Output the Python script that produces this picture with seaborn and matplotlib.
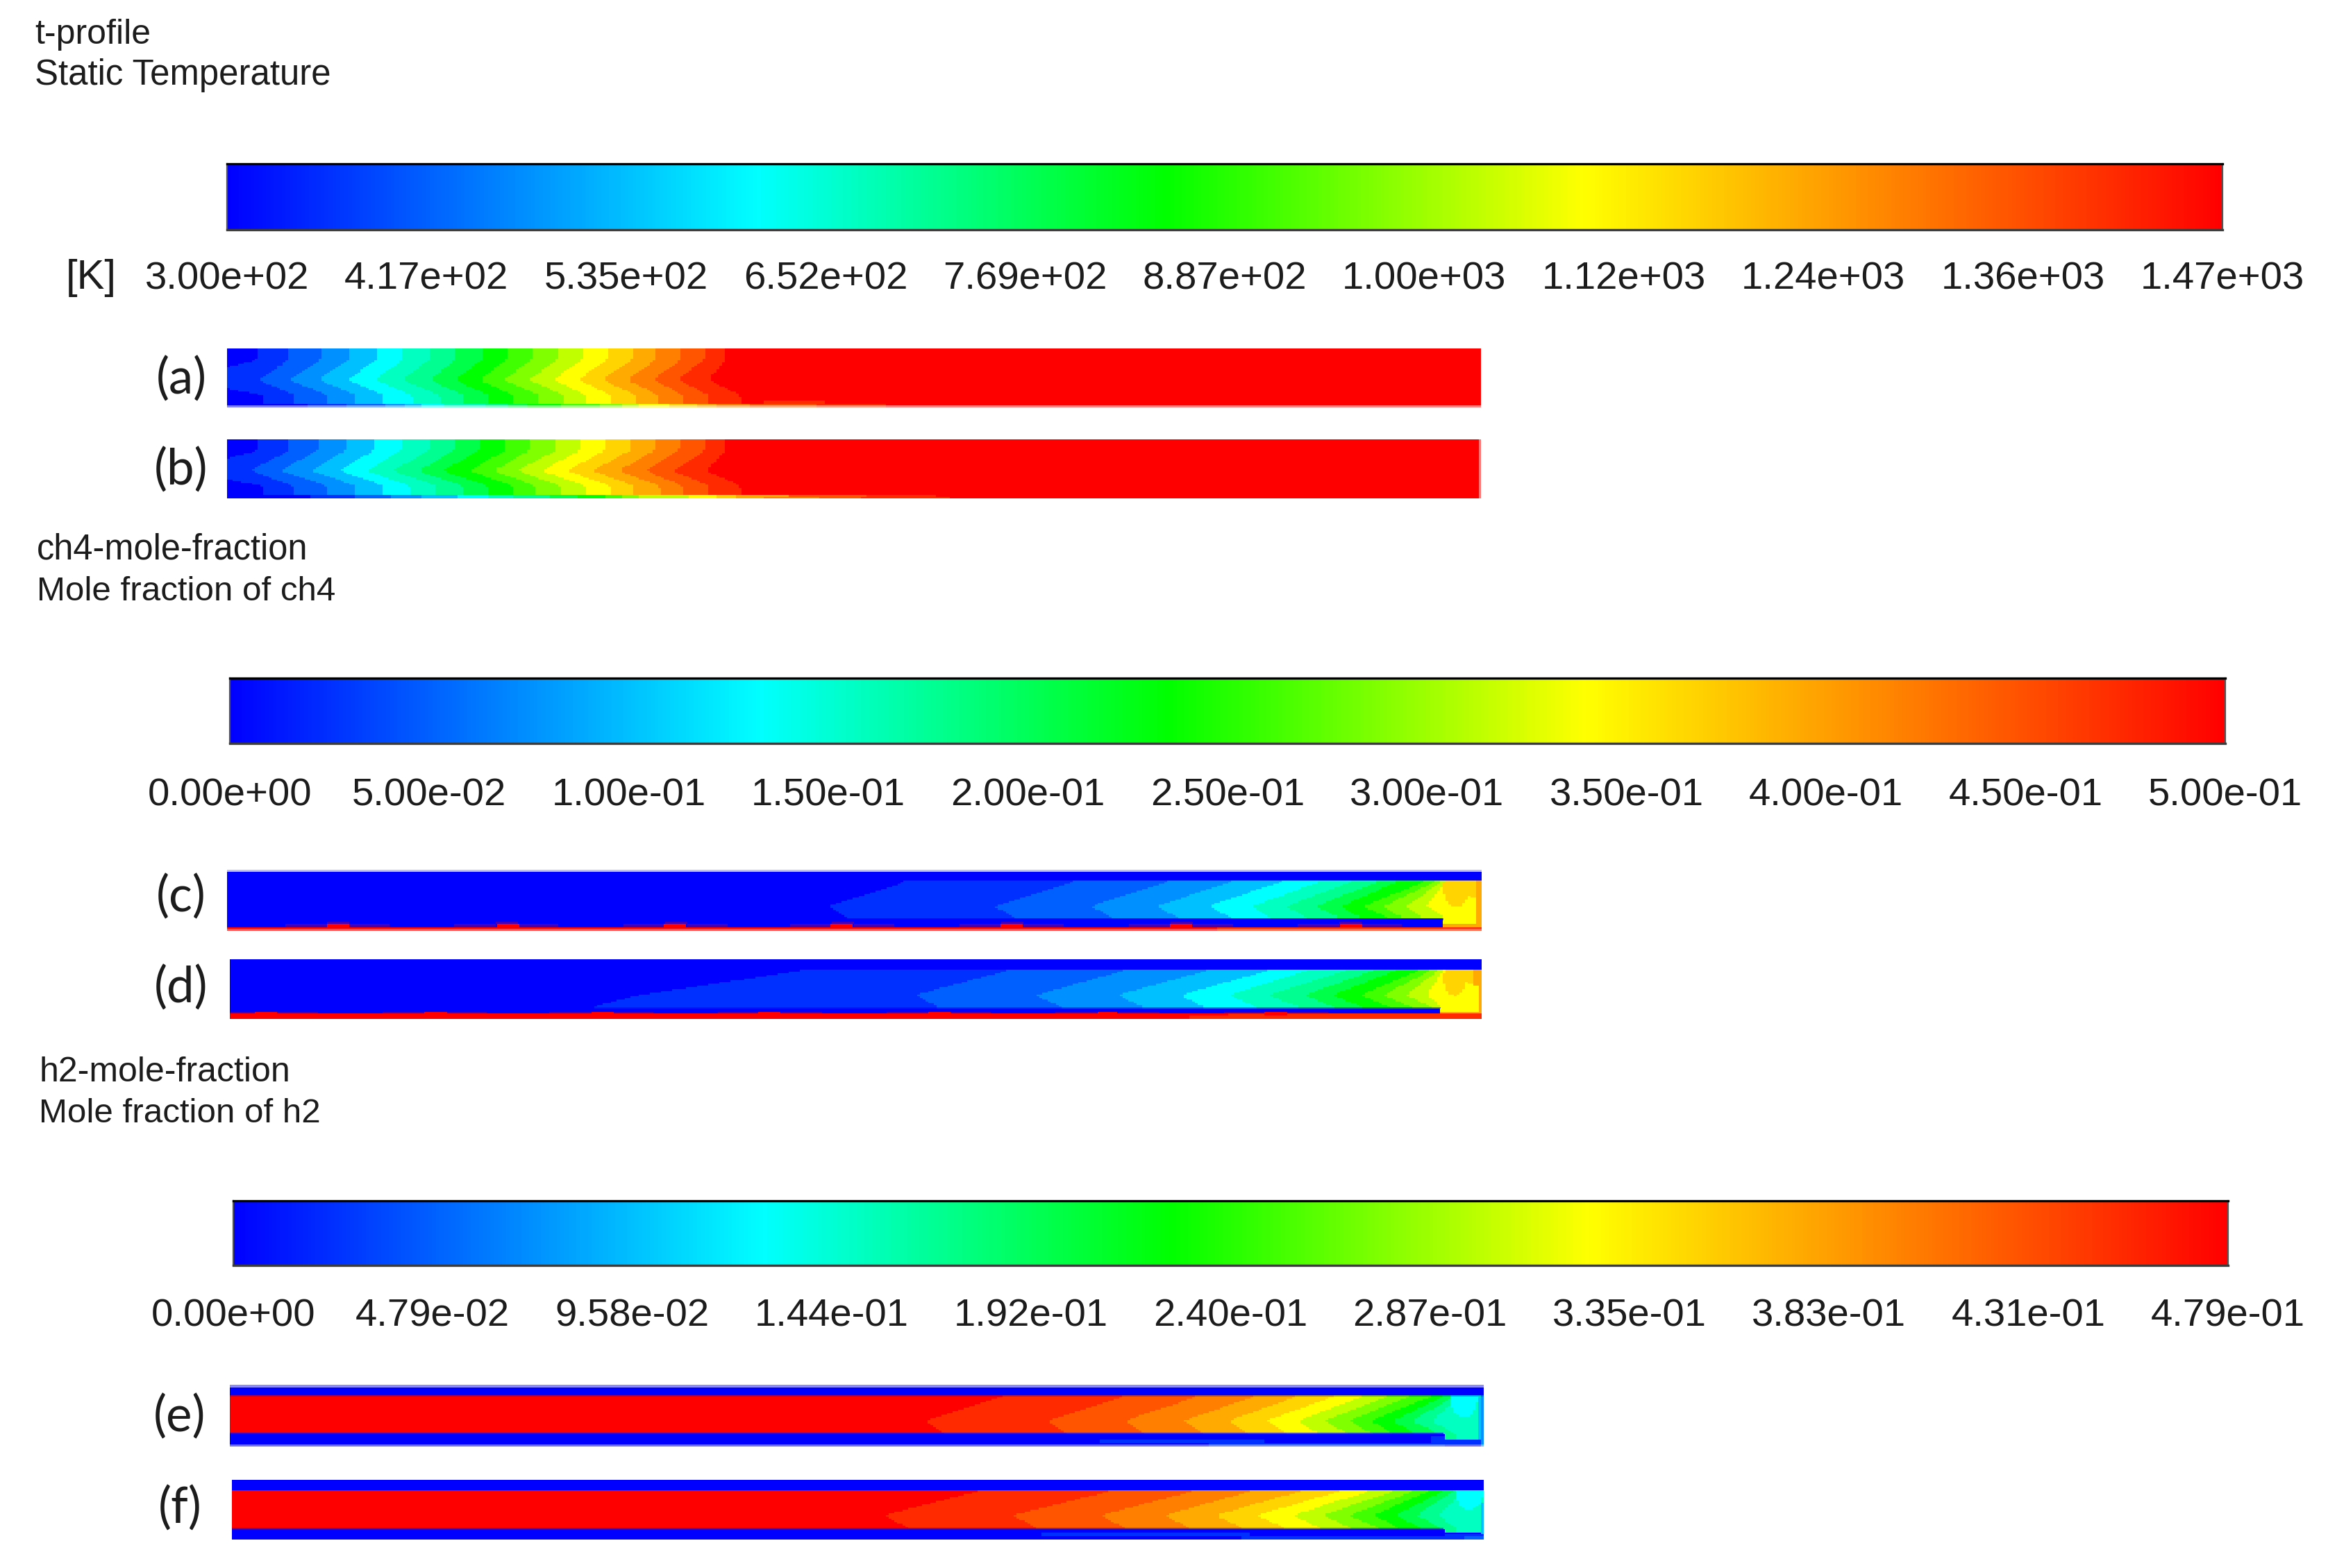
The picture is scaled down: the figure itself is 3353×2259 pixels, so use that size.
import numpy as np
import matplotlib
matplotlib.use("Agg")
import matplotlib.pyplot as plt
from matplotlib.colors import ListedColormap, LinearSegmentedColormap
from matplotlib.patches import Rectangle
from matplotlib.transforms import Affine2D
import seaborn as sns

W, H = 3353, 2259

# colour bar labels
t_labels = ["3.00e+02", "4.17e+02", "5.35e+02", "6.52e+02", "7.69e+02", "8.87e+02",
            "1.00e+03", "1.12e+03", "1.24e+03", "1.36e+03", "1.47e+03"]
ch4_labels = ["0.00e+00", "5.00e-02", "1.00e-01", "1.50e-01", "2.00e-01", "2.50e-01",
              "3.00e-01", "3.50e-01", "4.00e-01", "4.50e-01", "5.00e-01"]
h2_labels = ["0.00e+00", "4.79e-02", "9.58e-02", "1.44e-01", "1.92e-01", "2.40e-01",
             "2.87e-01", "3.35e-01", "3.83e-01", "4.31e-01", "4.79e-01"]

# 20 contour bands
band_colors = ["#0000ff", "#0030ff", "#0060ff", "#0090ff", "#00c0ff", "#00ffff", "#00ffc0",
               "#00ff90", "#00ff48", "#00ff00", "#40ff00", "#80ff00", "#c0ff00", "#ffff00",
               "#ffd400", "#ffaa00", "#ff8000", "#ff5500", "#ff2a00", "#ff0000"]

# band edges, image px along the tube (top wall, centre, bottom wall)
a_top = [373, 417, 462, 503, 543, 581, 620, 657, 696, 731, 766, 803, 839, 874, 910, 945, 981, 1015, 1045]
a_mid = [250, 371, 416, 458, 500, 539, 578, 618, 654, 690, 725, 761, 796, 832, 867, 902, 940, 975, 1020]
a_bot = [380, 425, 471, 513, 553, 594, 634, 669, 705, 739, 777, 811, 844, 880, 915, 948, 984, 1021, 1066]
a_strip = [442, 500, 554, 583, 608, 640, 698, 730, 761, 806, 863, 895, 921, 962, 1004, 1030, 1080, 1177, 1275]

b_top = [373, 417, 458, 499, 539, 578, 618, 654, 690, 728, 763, 800, 835, 871, 908, 943, 978, 1015, 1045]
b_mid = [250, 360, 403, 447, 488, 527, 565, 602, 637, 675, 710, 745, 779, 816, 852, 890, 929, 969, 1017]
b_bot = [380, 423, 471, 513, 553, 591, 629, 667, 704, 739, 772, 806, 842, 878, 913, 950, 984, 1021, 1066]
b_strip = [449, 513, 564, 608, 659, 704, 740, 790, 832, 870, 895, 921, 991, 1033, 1060, 1100, 1180, 1240, 1370]

c_top = [1303, 1545, 1682, 1773, 1844, 1900, 1945, 1984, 2012, 2051, 2065, 2075, 2082]
c_mid = [1193, 1431, 1571, 1665, 1740, 1803, 1852, 1894, 1931, 1963, 1992, 2025, 2054]
c_bot = [1219, 1461, 1602, 1696, 1773, 1830, 1882, 1928, 1959, 1998, 2019, 2047, 2079]

d_top = [1160, 1454, 1623, 1742, 1830, 1886, 1942, 1980, 2012, 2044, 2061, 2072, 2079]
d_mid = [921, 1317, 1491, 1609, 1700, 1770, 1826, 1879, 1919, 1959, 1992, 2025, 2055]
d_bot = [854, 1351, 1528, 1647, 1735, 1809, 1872, 1921, 1963, 2001, 2033, 2061, 2076]

e_top = [1444, 1619, 1724, 1807, 1868, 1921, 1963, 1998, 2030, 2061, 2079, 2093, 2103]
e_mid = [1331, 1510, 1620, 1703, 1768, 1823, 1868, 1907, 1942, 1973, 2005, 2033, 2061]
e_bot = [1361, 1538, 1651, 1735, 1798, 1854, 1900, 1942, 1977, 2008, 2040, 2072, 2096]

f_top = [1412, 1602, 1721, 1805, 1875, 1931, 1973, 2008, 2037, 2058, 2079, 2093, 2107]
f_mid = [1272, 1458, 1584, 1677, 1751, 1810, 1861, 1905, 1943, 1978, 2008, 2040, 2072]
f_bot = [1307, 1494, 1621, 1714, 1789, 1851, 1901, 1945, 1984, 2015, 2047, 2075, 2096]

# red spots on the lower wall of the ch4 panels
c_spots = [471, 714, 958, 1198, 1442, 1686, 1929]
d_spots = [368, 611, 851, 1094, 1337, 1580, 1823]

# panel boxes: left, right, top, bottom
a_box = (327, 2133, 502, 587)
b_box = (327, 2133, 633, 718)
c_box = (327, 2134, 1253, 1341)
d_box = (331, 2134, 1382, 1468)
e_box = (331, 2137, 1995, 2084)
f_box = (334, 2137, 2132, 2218)

panel_names = ["(a)", "(b)", "(c)", "(d)", "(e)", "(f)"]
name_xy = [(261, 546), (261, 677), (261, 1292), (261, 1423), (259, 2041), (259, 2173)]

fig = plt.figure(figsize=(W / 100, H / 100), dpi=100, facecolor="white")
px = Affine2D().scale(1 / W, -1 / H).translate(0, 1) + fig.transFigure
font = ["Liberation Sans", "DejaVu Sans"]
ink = "#1c1c1c"

band_cmap = ListedColormap(band_colors)
bar_cmap = LinearSegmentedColormap.from_list(
    "fluent", [(0, "#0000ff"), (0.265, "#00ffff"), (0.47, "#00ff00"), (0.68, "#ffff00"), (1, "#ff0000")], N=512)


def axes_at(box):
    x0, x1, y0, y1 = box
    return fig.add_axes([x0 / W, 1 - y1 / H, (x1 - x0) / W, (y1 - y0) / H])


def colorBar(box, labels, pad):
    ax = axes_at(box)
    ramp = np.linspace(0, 1, 512).reshape(1, -1)
    sns.heatmap(ramp, ax=ax, cmap=bar_cmap, vmin=0, vmax=1, cbar=False, xticklabels=False, yticklabels=False)
    ax.set_xticks(np.linspace(0, 512, len(labels)))
    ax.set_xticklabels(labels, rotation=0, fontsize=40.5, family=font, color=ink)
    ax.tick_params(axis="x", length=0, pad=pad)
    ax.tick_params(axis="y", length=0)
    for side, lw, col in [("top", 2.4, "black"), ("bottom", 2.4, "#3c3c3c"), ("left", 1.6, "#555555"), ("right", 1.6, "#555555")]:
        ax.spines[side].set_visible(True)
        ax.spines[side].set_linewidth(lw)
        ax.spines[side].set_color(col)
    return ax


def bandField(box, top, mid, bot, core_y, stops, base, start, step, exp_y=None):
    # contour band number per cell, the edges bend between wall and centre
    x0, x1, y0, y1 = box
    nx, ny = int((x1 - x0) / 4), int((y1 - y0) / 2.5)
    xs = x0 + (np.arange(nx) + 0.5) * (x1 - x0) / nx
    ys = y0 + (np.arange(ny) + 0.5) * (y1 - y0) / ny
    field = np.full((ny, nx), base, dtype=float)
    # rounded chevrons: box average along the height
    fine = np.linspace(0, 1, 201)
    win = 19
    curves = []
    for t, m, b in zip(top, mid, bot):
        c = np.interp(fine, stops, [t, t, m, b, b])
        c = np.convolve(np.pad(c, win // 2, mode="edge"), np.ones(win) / win, mode="valid")
        curves.append(c)
    curves = np.array(curves)
    for j, y in enumerate(ys):
        s = np.clip((y - core_y[0]) / (core_y[1] - core_y[0]), 0, 1)
        edges = curves[:, int(round(s * 200))]
        count = (xs[:, None] >= edges[None, :]).sum(axis=1)
        if core_y[0] <= y < core_y[1]:
            field[j] = start + step * count
        elif exp_y is not None and core_y[1] <= y < exp_y[1]:
            mask = xs >= exp_y[0]
            field[j, mask] = (start + step * count)[mask]
    return field, xs, ys


def putRect(field, xs, ys, xa, xb, ya, yb, level):
    field[np.ix_((ys >= ya) & (ys < yb), (xs >= xa) & (xs < xb))] = level


def putBlob(field, xs, ys, xc, yc, a, b, level, ymin):
    gx, gy = np.meshgrid(xs, ys)
    field[(((gx - xc) / a) ** 2 + ((gy - yc) / b) ** 2 < 1) & (gy >= ymin)] = level


def putStrip(field, xs, ys, edges, ya, yb):
    count = (xs[:, None] >= np.array(edges)[None, :]).sum(axis=1)
    field[(ys >= ya) & (ys < yb)] = count


def drawField(box, field):
    ax = axes_at(box)
    sns.heatmap(field, ax=ax, cmap=band_cmap, vmin=-0.5, vmax=19.5, cbar=False,
                xticklabels=False, yticklabels=False, rasterized=True)
    ax.tick_params(length=0)
    return ax


def shade(xa, xb, ya, yb, color, alpha):
    fig.add_artist(Rectangle((xa, ya), xb - xa, yb - ya, transform=px, facecolor=color,
                             alpha=alpha, edgecolor="none", zorder=5))


# ---- colour bars
colorBar((327, 3201, 236, 331), t_labels, 32.5)
colorBar((331, 3205, 977, 1071), ch4_labels, 35.5)
colorBar((336, 3209, 1730, 1823), h2_labels, 34)

# ---- temperature panels
thermal_stops = [0, 0.2, 0.57, 0.84, 1]
f1, xs, ys = bandField(a_box, a_top, a_mid, a_bot, (502, 582), thermal_stops, 19, 0, 1)
putStrip(f1, xs, ys, a_strip, 582, 587.5)
putRect(f1, xs, ys, 1100, 1188, 578, 582, 18)
drawField(a_box, f1)
shade(327, 2133, 584, 587, "white", 0.5)

f2, xs, ys = bandField(b_box, b_top, b_mid, b_bot, (633, 712), thermal_stops, 19, 0, 1)
putStrip(f2, xs, ys, b_strip, 712, 718.5)
putRect(f2, xs, ys, 1100, 1135, 712, 715, 15)
putRect(f2, xs, ys, 1135, 1250, 712, 715, 17)
putRect(f2, xs, ys, 1250, 1350, 712, 715, 18)
putRect(f2, xs, ys, 1350, 1500, 712, 715, 19)
drawField(b_box, f2)
shade(2130, 2133, 633, 718, "white", 0.45)

# ---- ch4 panels
f3, xs, ys = bandField(c_box, c_top, c_mid, c_bot, (1269, 1323), [0, 0.03, 0.68, 0.97, 1], 0, 0, 1, exp_y=(2079, 1332))
putRect(f3, xs, ys, 327, 2079, 1335, 1342, 19)
putRect(f3, xs, ys, 1752, 2079, 1337, 1342, 18)
putRect(f3, xs, ys, 2079, 2134, 1332, 1335, 15)
putRect(f3, xs, ys, 2079, 2134, 1335, 1342, 18)
putBlob(f3, xs, ys, 2097, 1280, 18, 27, 14, 1269)
putBlob(f3, xs, ys, 2121, 1278, 13, 15, 14, 1269)
putRect(f3, xs, ys, 2127, 2134, 1269, 1335, 15)
for s in c_spots:
    putRect(f3, xs, ys, s, s + 32, 1331, 1336, 19)
drawField(c_box, f3)
shade(327, 2134, 1253, 1256, "white", 0.75)
shade(327, 2134, 1338, 1341, "white", 0.3)
shade(327, 2134, 1266, 1269, "#0000ff", 0.55)
shade(327, 2079, 1323, 1326, "#0000ff", 0.6)
for s in c_spots:
    shade(s - 60, s, 1331, 1335, "red", 0.28)
    shade(s + 32, s + 90, 1331, 1335, "red", 0.28)
    shade(s, s + 32, 1328, 1331, "red", 0.28)

f4, xs, ys = bandField(d_box, d_top, d_mid, d_bot, (1396, 1452), [0, 0.03, 0.67, 0.97, 1], 0, 0, 1, exp_y=(2075, 1458))
putRect(f4, xs, ys, 331, 2079, 1461, 1469, 19)
putRect(f4, xs, ys, 1714, 1770, 1464, 1469, 18)
putRect(f4, xs, ys, 1770, 2079, 1461, 1469, 18)
putRect(f4, xs, ys, 2075, 2134, 1458, 1461, 15)
putRect(f4, xs, ys, 2075, 2134, 1461, 1469, 18)
putBlob(f4, xs, ys, 2095, 1410, 16, 24, 14, 1396)
putBlob(f4, xs, ys, 2120, 1404, 12, 14, 14, 1396)
putBlob(f4, xs, ys, 2126, 1408, 6, 12, 15, 1396)
putRect(f4, xs, ys, 2130, 2134, 1396, 1461, 15)
for s in d_spots:
    putRect(f4, xs, ys, s, s + 31, 1458, 1462, 19)
drawField(d_box, f4)
shade(331, 2075, 1451, 1453, "#0000ff", 0.5)
for s in d_spots:
    shade(max(s - 60, 331), s, 1458, 1461, "red", 0.28)
    shade(s + 31, s + 90, 1458, 1461, "red", 0.28)

# ---- h2 panels
f5, xs, ys = bandField(e_box, e_top, e_mid, e_bot, (2010, 2067), [0, 0.03, 0.65, 0.97, 1], 0, 19, -1, exp_y=(2079, 2075))
putRect(f5, xs, ys, 1584, 1822, 2073, 2078, 1)
putRect(f5, xs, ys, 1740, 2079, 2079, 2084, 1)
putRect(f5, xs, ys, 2060, 2079, 2069, 2078, 1)
putRect(f5, xs, ys, 2079, 2137, 2075, 2081, 1)
putBlob(f5, xs, ys, 2108, 2012, 20, 30, 5, 2010)
putRect(f5, xs, ys, 2128, 2133, 2012, 2075, 4)
putRect(f5, xs, ys, 2133, 2137, 2010, 2084, 3)
drawField(e_box, f5)
shade(331, 2137, 1995, 1999, "white", 0.55)
shade(331, 2137, 2081, 2084, "white", 0.45)
shade(331, 2137, 2009, 2012, "#0000ff", 0.38)
shade(331, 2079, 2064, 2068, "#0000ff", 0.68)

f6, xs, ys = bandField(f_box, f_top, f_mid, f_bot, (2146, 2203), [0, 0.03, 0.65, 0.97, 1], 0, 19, -1, exp_y=(2079, 2208))
putRect(f6, xs, ys, 1500, 1800, 2209, 2213, 1)
putRect(f6, xs, ys, 1790, 2137, 2214, 2219, 1)
putRect(f6, xs, ys, 2079, 2137, 2210, 2214, 1)
putRect(f6, xs, ys, 2110, 2137, 2214, 2219, 2)
putBlob(f6, xs, ys, 2116, 2150, 20, 25, 5, 2146)
putRect(f6, xs, ys, 2131, 2137, 2165, 2210, 4)
drawField(f_box, f6)
shade(334, 2079, 2201, 2204, "#0000ff", 0.55)

# ---- text
for x, y, s, size in [(50, 63, "t-profile", 36), (50, 122, "Static Temperature", 36.7),
                      (53, 805, "ch4-mole-fraction", 36.4), (53, 865, "Mole fraction of ch4", 35.5),
                      (56, 1558, "h2-mole-fraction", 36), (56, 1617, "Mole fraction of h2", 35.5)]:
    fig.text(x, y, s, transform=px, fontsize=size, family=font, color=ink, va="baseline", ha="left")
fig.text(95, 416, "[K]", transform=px, fontsize=43, family=font, color=ink, va="baseline", ha="left")
for (x, y), s in zip(name_xy, panel_names):
    fig.text(x, y, s, transform=px, fontsize=51, family=["Lato", "DejaVu Sans"], weight="normal",
             color=ink, va="center", ha="center")

fig.savefig("out.png", dpi=100, facecolor="white")
plt.close(fig)
